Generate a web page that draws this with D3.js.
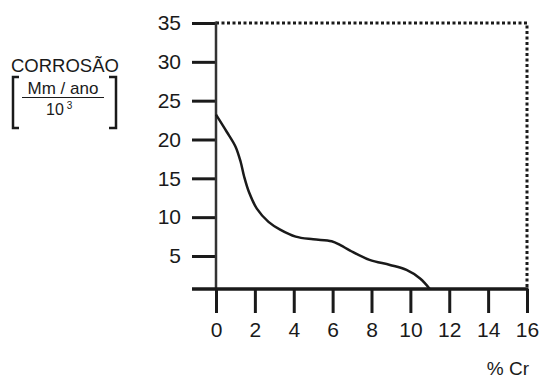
<!DOCTYPE html>
<html>
<head>
<meta charset="utf-8">
<script src="https://cdn.jsdelivr.net/npm/d3@7"></script>
<style>
  body { margin: 0; background: #fff; }
  text { font-family: "Liberation Sans", Arial, sans-serif; fill: #1a1a1a; }
</style>
</head>
<body>
<script>
// % Cr vs corrosion rate
var dataCr = [0, 0.55, 1.0, 1.27, 1.45, 1.7, 2.1, 2.7, 3.3, 4.1, 5.0, 5.95, 6.4, 6.9, 7.9, 8.95, 9.8, 10.5, 11.0];
var dataCorrosion = [23.2, 21.0, 19.1, 17.1, 15.2, 13.2, 11.1, 9.4, 8.4, 7.5, 7.15, 6.9, 6.4, 5.7, 4.5, 3.85, 3.2, 2.1, 0.75];
var xTicks = [0, 2, 4, 6, 8, 10, 12, 14, 16];
var yTicks = [5, 10, 15, 20, 25, 30, 35];
var yFloor = 0.75; // the drawn base line sits a bit under the 5 spacing

var ink = "#1a1a1a";

var svg = d3.select("body").append("svg").attr("width", 542).attr("height", 378);

var x = d3.scaleLinear().domain([0, 16]).range([216, 527]);
var y = d3.scaleLinear().domain([yFloor, 35]).range([289, 23]);

// dotted frame top and right
svg.append("path")
  .attr("d", "M" + x(0) + "," + y(35) + "H" + x(16) + "V" + y(yFloor))
  .attr("fill", "none")
  .attr("stroke", ink)
  .attr("stroke-width", 3)
  .attr("stroke-dasharray", "3,2.5");

// y axis
var yAxis = svg.append("g")
  .attr("transform", "translate(" + x(0) + ",0)")
  .call(d3.axisLeft(y).tickValues(yTicks).tickSize(24).tickPadding(11));
yAxis.select(".domain").remove();
yAxis.selectAll("line").attr("stroke", ink).attr("stroke-width", 3);
yAxis.attr("font-size", null).attr("font-family", null);
yAxis.selectAll("text").attr("font-size", 21).attr("fill", ink);

svg.append("line")
  .attr("x1", x(0)).attr("x2", x(0))
  .attr("y1", y(35) - 1.5).attr("y2", y(yFloor))
  .attr("stroke", "#333").attr("stroke-width", 2.5);

// x axis
var xAxis = svg.append("g")
  .attr("transform", "translate(0," + y(yFloor) + ")")
  .call(d3.axisBottom(x).tickValues(xTicks).tickSize(24).tickPadding(9));
xAxis.select(".domain").remove();
xAxis.selectAll("line").attr("stroke", ink).attr("stroke-width", 3);
xAxis.attr("font-size", null).attr("font-family", null);
xAxis.selectAll("text").attr("font-size", 21).attr("fill", ink);

svg.append("line")
  .attr("x1", 192).attr("x2", x(16) + 1.5)
  .attr("y1", y(yFloor)).attr("y2", y(yFloor))
  .attr("stroke", ink).attr("stroke-width", 3.5);

// curve
var line = d3.line()
  .x(function (d, i) { return x(d); })
  .y(function (d, i) { return y(dataCorrosion[i]); })
  .curve(d3.curveCatmullRom);

svg.append("path")
  .attr("d", line(dataCr))
  .attr("fill", "none")
  .attr("stroke", ink)
  .attr("stroke-width", 2.5);

// axis titles
svg.append("text")
  .attr("x", 529).attr("y", 375)
  .attr("text-anchor", "end")
  .attr("font-size", 19)
  .text("% Cr");

svg.append("text")
  .attr("x", 11).attr("y", 72)
  .attr("font-size", 18.5)
  .text("CORROSÃO");

svg.append("text")
  .attr("x", 63).attr("y", 94)
  .attr("text-anchor", "middle")
  .attr("font-size", 17)
  .text("Mm / ano");

svg.append("line")
  .attr("x1", 22).attr("x2", 104)
  .attr("y1", 97.5).attr("y2", 97.5)
  .attr("stroke", ink).attr("stroke-width", 1.2);

var den = svg.append("text")
  .attr("x", 46).attr("y", 115)
  .attr("font-size", 16);
den.append("tspan").text("10");
den.append("tspan").attr("dx", 3).attr("dy", -6).attr("font-size", 10).text("3");

svg.append("path")
  .attr("d", "M19,77H13V128H19")
  .attr("fill", "none").attr("stroke", ink).attr("stroke-width", 2.5);
svg.append("path")
  .attr("d", "M109,77H116V128H109")
  .attr("fill", "none").attr("stroke", ink).attr("stroke-width", 2.5);
</script>
</body>
</html>
